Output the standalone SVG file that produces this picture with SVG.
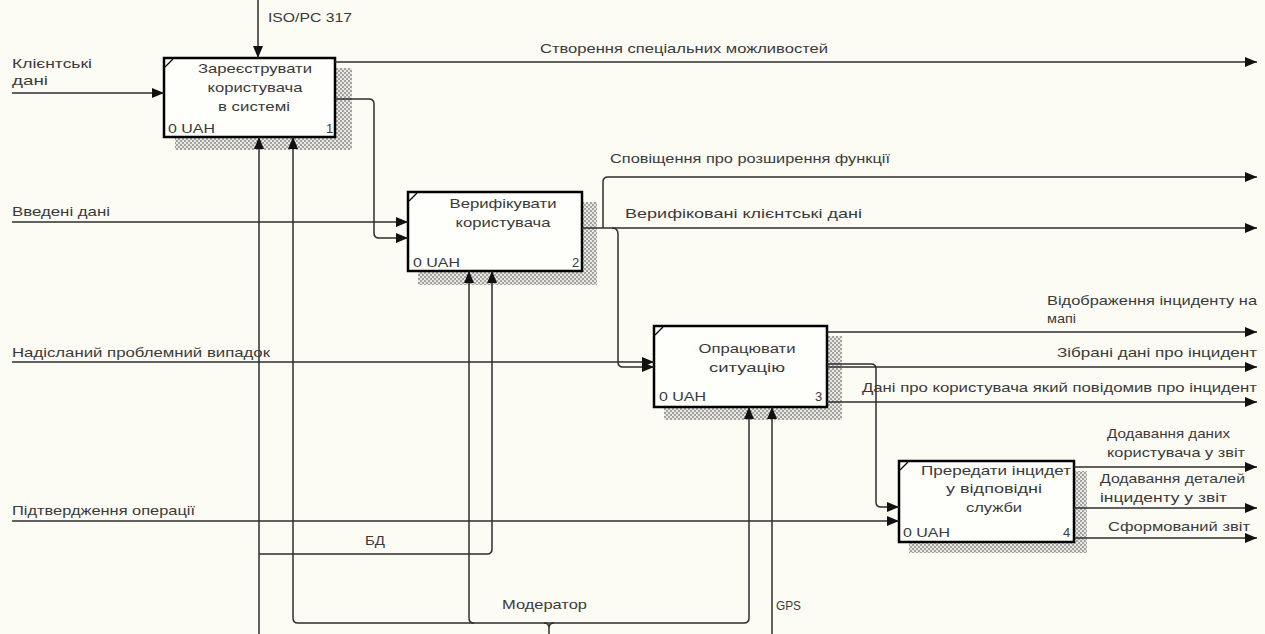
<svg xmlns="http://www.w3.org/2000/svg" width="1265" height="634" viewBox="0 0 1265 634">
<style>
text{font-family:"Liberation Sans",Arial,sans-serif;font-size:13px;fill:#3a3a3a}
.box{fill:#fefefb;stroke:#000;stroke-width:2.5}
.tick{stroke:#000;stroke-width:1.2;fill:none}
.sh{fill:url(#hatch)}
.c{fill:none;stroke:#2e2e2e;stroke-width:1.5}
.a{marker-end:url(#ah)}
.m{text-anchor:middle}
</style>
<defs>
<pattern id="hatch" width="4" height="4" patternUnits="userSpaceOnUse">
<rect width="4" height="4" fill="#e8e7e0"/>
<rect x="0" y="0" width="2" height="2" fill="#a2a2a2"/>
<rect x="2" y="2" width="2" height="2" fill="#a2a2a2"/>
</pattern>
<marker id="ah" markerUnits="userSpaceOnUse" markerWidth="13" markerHeight="10" refX="12" refY="5" orient="auto">
<path d="M0,0 L12,5 L0,10 Z" fill="#111"/>
</marker>
</defs>
<rect width="1265" height="634" fill="#fcfbf4"/>

<g id="node1">
<path class="sh" d="M335,68 H352 V150 H175 V137 H335 Z"/>
<rect class="box" x="164" y="58" width="171" height="79"/>
<path class="tick" d="M165,67 L173,59"/>
<text class="m" x="255" y="73" textLength="114" lengthAdjust="spacingAndGlyphs">Зареєструвати</text>
<text class="m" x="255" y="92" textLength="95" lengthAdjust="spacingAndGlyphs">користувача</text>
<text class="m" x="254" y="111" textLength="72" lengthAdjust="spacingAndGlyphs">в системі</text>
<text x="168" y="133" textLength="47" lengthAdjust="spacingAndGlyphs">0 UAH</text>
<text x="326" y="133">1</text>
</g>

<g id="node2">
<path class="sh" d="M582,202 H597 V285 H418 V271 H582 Z"/>
<rect class="box" x="408" y="192" width="174" height="79"/>
<path class="tick" d="M409,201 L417,193"/>
<text class="m" x="503" y="208" textLength="107" lengthAdjust="spacingAndGlyphs">Верифікувати</text>
<text class="m" x="503" y="227" textLength="95" lengthAdjust="spacingAndGlyphs">користувача</text>
<text x="413" y="267" textLength="47" lengthAdjust="spacingAndGlyphs">0 UAH</text>
<text x="572" y="267">2</text>
</g>

<g id="node3">
<path class="sh" d="M827,336 H842 V420 H664 V407 H827 Z"/>
<rect class="box" x="654" y="326" width="173" height="81"/>
<path class="tick" d="M655,335 L663,327"/>
<text class="m" x="747" y="353" textLength="97" lengthAdjust="spacingAndGlyphs">Опрацювати</text>
<text class="m" x="747" y="372" textLength="76" lengthAdjust="spacingAndGlyphs">ситуацію</text>
<text x="659" y="401" textLength="47" lengthAdjust="spacingAndGlyphs">0 UAH</text>
<text x="815" y="401">3</text>
</g>

<g id="node4">
<path class="sh" d="M1074,471 H1087 V553 H909 V542 H1074 Z"/>
<rect class="box" x="899" y="461" width="175" height="81"/>
<path class="tick" d="M900,470 L908,462"/>
<text class="m" x="996" y="475" textLength="150" lengthAdjust="spacingAndGlyphs">Прередати інцидет</text>
<text class="m" x="994" y="493" textLength="96" lengthAdjust="spacingAndGlyphs">у відповідні</text>
<text class="m" x="994" y="512" textLength="56" lengthAdjust="spacingAndGlyphs">служби</text>
<text x="903" y="537" textLength="47" lengthAdjust="spacingAndGlyphs">0 UAH</text>
<text x="1063" y="537">4</text>
</g>

<g id="connectors">
<path class="c a" d="M258,0 V58"/>
<path class="c a" d="M12,93 H164"/>
<path class="c a" d="M335,62 H1257"/>
<path class="c a" d="M335,99 H369 q5,0 5,5 V233 q0,5 5,5 H408"/>
<path class="c a" d="M12,222 H408"/>
<path class="c a" d="M582,228 H1257"/>
<path class="c a" d="M603,228 V182 q0,-5 5,-5 H1257"/>
<path class="c a" d="M612,228 q6,0 6,6 V362 q0,5 5,5 H654"/>
<path class="c a" d="M12,362 H654"/>
<path class="c a" d="M827,332 H1257"/>
<path class="c a" d="M827,367 H1257"/>
<path class="c a" d="M827,402 H1257"/>
<path class="c a" d="M827,364 H871 q5,0 5,5 V502 q0,5 5,5 H899"/>
<path class="c a" d="M12,521 H899"/>
<path class="c a" d="M1074,467 H1257"/>
<path class="c a" d="M1074,508 H1257"/>
<path class="c a" d="M1074,538 H1257"/>
<path class="c a" d="M259,634 V137"/>
<path class="c a" d="M259,554 H487 q5,0 5,-5 V271"/>
<path class="c a" d="M293,618 V137"/>
<path class="c" d="M298,623 q-5,0 -5,-5"/>
<path class="c" d="M298,623 H744 q5,0 5,-5"/>
<path class="c a" d="M749,618 V407"/>
<path class="c a" d="M469,618 V271"/>
<path class="c" d="M474,623 q-5,0 -5,-5"/>
<path class="c" d="M549,634 V628 q0,-5 -5,-5 M549,628 q0,-5 5,-5"/>
<path class="c a" d="M772,634 V407"/>
</g>

<g id="labels">
<text x="268" y="22" textLength="84" lengthAdjust="spacingAndGlyphs">ISO/PC 317</text>
<text x="12" y="68" textLength="80" lengthAdjust="spacingAndGlyphs">Клієнтські</text>
<text x="12" y="85" textLength="36" lengthAdjust="spacingAndGlyphs">дані</text>
<text x="540" y="53" textLength="288" lengthAdjust="spacingAndGlyphs">Створення спеціальних можливостей</text>
<text x="610" y="163" textLength="280" lengthAdjust="spacingAndGlyphs">Сповіщення про розширення функції</text>
<text x="625" y="218" textLength="237" lengthAdjust="spacingAndGlyphs">Верифіковані клієнтські дані</text>
<text x="12" y="216" textLength="98" lengthAdjust="spacingAndGlyphs">Введені дані</text>
<text x="12" y="357" textLength="258" lengthAdjust="spacingAndGlyphs">Надісланий проблемний випадок</text>
<text x="12" y="515" textLength="183" lengthAdjust="spacingAndGlyphs">Підтвердження операції</text>
<text x="1047" y="305" textLength="210" lengthAdjust="spacingAndGlyphs">Відображення інциденту на</text>
<text x="1047" y="323" textLength="29" lengthAdjust="spacingAndGlyphs">мапі</text>
<text x="1057" y="357" textLength="200" lengthAdjust="spacingAndGlyphs">Зібрані дані про інцидент</text>
<text x="862" y="392" textLength="395" lengthAdjust="spacingAndGlyphs">Дані про користувача який повідомив про інцидент</text>
<text x="1107" y="438" textLength="123" lengthAdjust="spacingAndGlyphs">Додавання даних</text>
<text x="1107" y="457" textLength="138" lengthAdjust="spacingAndGlyphs">користувача у звіт</text>
<text x="1100" y="483" textLength="145" lengthAdjust="spacingAndGlyphs">Додавання деталей</text>
<text x="1100" y="502" textLength="127" lengthAdjust="spacingAndGlyphs">інциденту у звіт</text>
<text x="1108" y="531" textLength="142" lengthAdjust="spacingAndGlyphs">Сформований звіт</text>
<text x="365" y="545" textLength="20" lengthAdjust="spacingAndGlyphs">БД</text>
<text x="502" y="609" textLength="85" lengthAdjust="spacingAndGlyphs">Модератор</text>
<text x="776" y="610" textLength="25" lengthAdjust="spacingAndGlyphs">GPS</text>
</g>
</svg>
